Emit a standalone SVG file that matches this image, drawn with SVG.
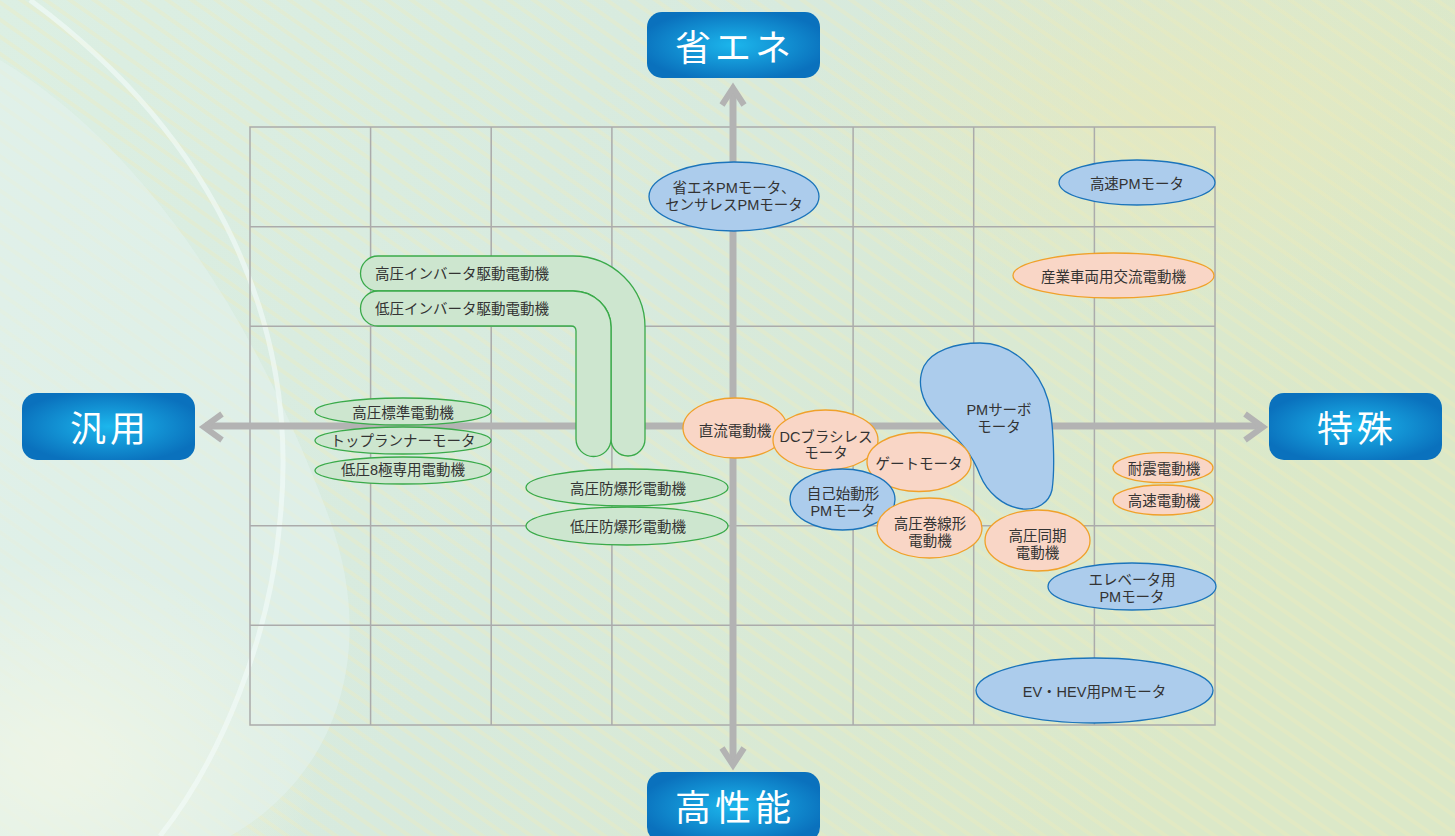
<svg xmlns="http://www.w3.org/2000/svg" width="1455" height="836" viewBox="0 0 1455 836">
<defs>
<linearGradient id="bg" x1="0" y1="0" x2="1" y2="0.3">
<stop offset="0" stop-color="#dcefe3"/>
<stop offset="0.5" stop-color="#d7eade"/>
<stop offset="1" stop-color="#dbe8c8"/>
</linearGradient>
<radialGradient id="lb" cx="0.5" cy="0.5" r="0.55">
<stop offset="0" stop-color="#1cb6ec"/>
<stop offset="1" stop-color="#0a71bd"/>
</radialGradient>
<radialGradient id="yel" cx="0.5" cy="0.5" r="0.5">
<stop offset="0" stop-color="#fbf8dc" stop-opacity="0.95"/>
<stop offset="1" stop-color="#fbf8dc" stop-opacity="0"/>
</radialGradient>
<radialGradient id="yel2" cx="0.5" cy="0.5" r="0.5">
<stop offset="0" stop-color="#ece8b4" stop-opacity="0.55"/>
<stop offset="1" stop-color="#ece8b4" stop-opacity="0"/>
</radialGradient>
<pattern id="streak" width="14" height="14" patternUnits="userSpaceOnUse" patternTransform="rotate(35)">
<rect width="14" height="4" fill="#f3eeb8" opacity="0.3"/>
</pattern>
</defs>
<style>
.lbl{font-family:"Noto Sans CJK JP","Noto Sans CJK SC",sans-serif;font-size:36px;fill:#ffffff;text-anchor:middle;dominant-baseline:central;letter-spacing:4px}
.t{font-family:"Liberation Sans","Noto Sans CJK JP",sans-serif;font-size:14.5px;fill:#333333;text-anchor:middle;dominant-baseline:central}
.g{fill:#cde6cf;stroke:#3aaa4a;stroke-width:1.3}
.o{fill:#f9d6c6;stroke:#f0a12a;stroke-width:1.3}
.b{fill:#acccec;stroke:#1b74bb;stroke-width:1.3}
.grid{stroke:#ababab;stroke-width:1.5;fill:none}
.axis{stroke:#b3b3b3;stroke-width:7;fill:none}
.head{stroke:#b3b3b3;stroke-width:6;fill:none;stroke-linejoin:miter}
</style>
<g id="background">
<rect width="1455" height="836" fill="url(#bg)"/>
<rect width="1455" height="836" fill="url(#streak)"/>
<ellipse cx="1180" cy="120" rx="380" ry="200" fill="url(#yel2)"/>
<ellipse cx="60" cy="760" rx="260" ry="200" fill="url(#yel)"/>
<path d="M 0 60 C 150 150 260 330 330 520 C 380 660 330 780 230 836 L 0 836 Z" fill="#e3f2ef" opacity="0.55"/>
<path d="M 30 0 C 220 140 300 330 280 520 C 270 640 220 760 160 836" fill="none" stroke="#f4fbfa" stroke-width="5" opacity="0.6"/>
</g>
<g id="grid">
<rect x="250" y="127" width="965" height="598" fill="#ffffff" fill-opacity="0.62" class="grid"/>
<path class="grid" d="M370.6 127V725M491.2 127V725M611.9 127V725M853.1 127V725M973.7 127V725M1094.4 127V725M250 226.7H1215M250 326.3H1215M250 525.7H1215M250 625.3H1215"/>
</g>
<g id="connectors">
<path class="axis" d="M205 426H1262"/>
<path class="axis" d="M733 89V764"/>
<path class="head" d="M222 414L204 427L222 440"/>
<path class="head" d="M1245 414L1263 427L1245 440"/>
<path class="head" d="M722 105L733 88L744 105"/>
<path class="head" d="M722 748L733 765L744 748"/>
</g>
<g id="label-shoene"><rect x="647" y="12" width="173" height="66" rx="15" fill="url(#lb)"/><text class="lbl" x="735" y="45">省エネ</text></g>
<g id="label-hanyou"><rect x="22" y="393" width="173" height="67" rx="15" fill="url(#lb)"/><text class="lbl" x="110" y="426">汎用</text></g>
<g id="label-tokushu"><rect x="1269" y="393" width="173" height="67" rx="15" fill="url(#lb)"/><text class="lbl" x="1357" y="426">特殊</text></g>
<g id="label-kouseinou"><rect x="647" y="772" width="173" height="70" rx="15" fill="url(#lb)"/><text class="lbl" x="735" y="805">高性能</text></g>

<g id="n-kouatsu-inverter"><path class="g" d="M378 256H573A72 71 0 0 1 645 327V439A17 17 0 0 1 611 439V327A38 36 0 0 0 573 291H378A17.5 17.5 0 0 1 378 256Z"/><text class="t" x="375" y="274" style="text-anchor:start">高圧インバータ駆動電動機</text></g>
<g id="n-teiatsu-inverter"><path class="g" d="M378 291H573A38 36 0 0 1 611 327V439A17.5 17.5 0 0 1 576 439V331Q576 326 571 326H378A17.5 17.5 0 0 1 378 291Z"/><text class="t" x="375" y="309" style="text-anchor:start">低圧インバータ駆動電動機</text></g>

<g id="n-kouatsu-hyoujun"><ellipse class="g" cx="403" cy="411.5" rx="88" ry="13.5"/><text class="t" x="403" y="413">高圧標準電動機</text></g>
<g id="n-toprunner"><ellipse class="g" cx="403" cy="440.5" rx="88" ry="13.5"/><text class="t" x="403" y="441">トップランナーモータ</text></g>
<g id="n-teiatsu-8"><ellipse class="g" cx="403" cy="470.5" rx="88" ry="13.5"/><text class="t" x="403" y="470">低圧8極専用電動機</text></g>
<g id="n-kouatsu-bouhaku"><ellipse class="g" cx="627" cy="487.5" rx="101" ry="18.5"/><text class="t" x="628" y="489">高圧防爆形電動機</text></g>
<g id="n-teiatsu-bouhaku"><ellipse class="g" cx="627" cy="526" rx="101" ry="19"/><text class="t" x="628" y="527">低圧防爆形電動機</text></g>

<g id="n-shoene-pm"><ellipse class="b" cx="734" cy="196.5" rx="85" ry="34.5"/><text class="t" x="734" y="188">省エネPMモータ、</text><text class="t" x="734" y="205">センサレスPMモータ</text></g>
<g id="n-kousoku-pm"><ellipse class="b" cx="1137" cy="182.5" rx="78" ry="22.5"/><text class="t" x="1137" y="183.5">高速PMモータ</text></g>
<g id="n-sangyou"><ellipse class="o" cx="1113.5" cy="275.5" rx="100.5" ry="22.5"/><text class="t" x="1113.5" y="277">産業車両用交流電動機</text></g>

<g id="n-pm-servo"><path class="b" d="M980 343C1015 343 1040 372 1048 400C1054 422 1055 470 1052 490C1049 503 1037 510 1023 509C1003 507 987 492 980 475C970 448 952 434 936 417C920 400 917 381 924 366C932 351 955 343 980 343Z"/><text class="t" x="999" y="410">PMサーボ</text><text class="t" x="999" y="427">モータ</text></g>

<g id="n-chokuryu"><ellipse class="o" cx="735" cy="428" rx="52" ry="30"/><text class="t" x="735" y="431">直流電動機</text></g>
<g id="n-dc-brushless"><ellipse class="o" cx="825.5" cy="440" rx="52.5" ry="30"/><text class="t" x="826" y="437">DCブラシレス</text><text class="t" x="826" y="453">モータ</text></g>
<g id="n-gate"><ellipse class="o" cx="919" cy="462" rx="52" ry="29.5"/><text class="t" x="919" y="464">ゲートモータ</text></g>
<g id="n-jiko-shidou"><ellipse class="b" cx="842.5" cy="499.5" rx="52.5" ry="30.5"/><text class="t" x="843" y="493.5">自己始動形</text><text class="t" x="843" y="511">PMモータ</text></g>
<g id="n-kouatsu-makisen"><ellipse class="o" cx="929.5" cy="528" rx="52.5" ry="30"/><text class="t" x="930" y="523.5">高圧巻線形</text><text class="t" x="930" y="541">電動機</text></g>
<g id="n-kouatsu-douki"><ellipse class="o" cx="1037.5" cy="540.5" rx="52.5" ry="30.5"/><text class="t" x="1037.5" y="536">高圧同期</text><text class="t" x="1037.5" y="553">電動機</text></g>
<g id="n-taishin"><ellipse class="o" cx="1163" cy="467.7" rx="50" ry="15"/><text class="t" x="1164" y="468.5">耐震電動機</text></g>
<g id="n-kousoku"><ellipse class="o" cx="1163" cy="500" rx="50" ry="15"/><text class="t" x="1164" y="500.7">高速電動機</text></g>
<g id="n-elevator"><ellipse class="b" cx="1132" cy="586.5" rx="84" ry="23.5"/><text class="t" x="1132" y="579.5">エレベータ用</text><text class="t" x="1132" y="596.7">PMモータ</text></g>
<g id="n-ev-hev"><ellipse class="b" cx="1094.5" cy="690.5" rx="118.5" ry="32.5"/><text class="t" x="1094.5" y="691.5">EV・HEV用PMモータ</text></g>
</svg>
